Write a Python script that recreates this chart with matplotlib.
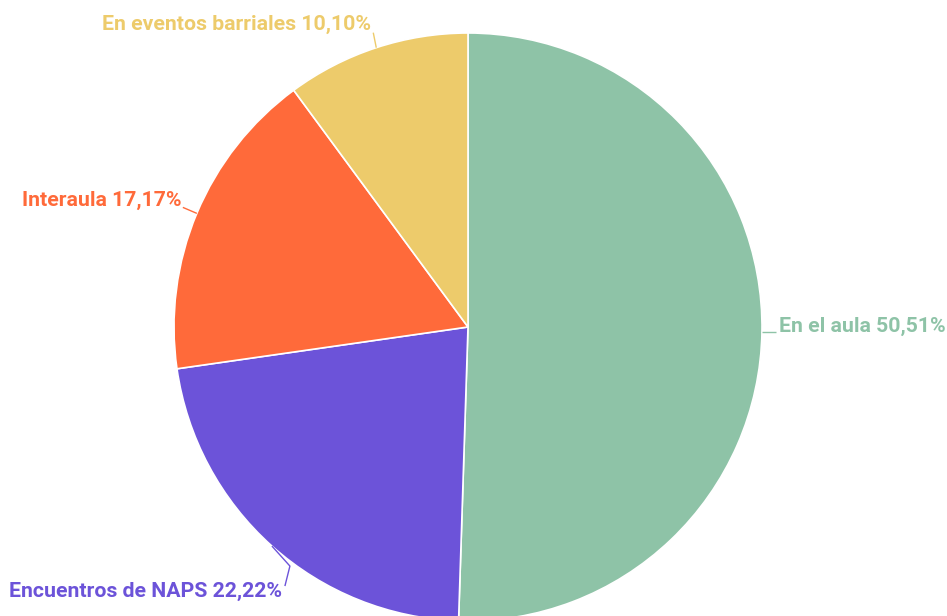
import numpy as np
import matplotlib
matplotlib.use("Agg")
import matplotlib.pyplot as plt

categories = ["En el aula", "Encuentros de NAPS", "Interaula", "En eventos barriales"]
values = [50.51, 22.22, 17.17, 10.10]
labels = ["En el aula 50,51%", "Encuentros de NAPS 22,22%", "Interaula 17,17%", "En eventos barriales 10,10%"]
colors = ["#8EC3A7", "#6C53D9", "#FF6A3A", "#EDCB6B"]

W, H = 947, 616
fig = plt.figure(figsize=(W / 100, H / 100), dpi=100)
ax = fig.add_axes([0, 0, 1, 1])
ax.set_xlim(0, W)
ax.set_ylim(0, H)
ax.set_aspect("equal")
ax.axis("off")

cx, cy, R = 468, H - 327, 294
wedges, _ = ax.pie(values, colors=colors, startangle=90, counterclock=False,
                   center=(cx, cy), radius=R, frame=True,
                   wedgeprops=dict(edgecolor="white", linewidth=1.2))
ax.set_xlim(0, W)
ax.set_ylim(0, H)
ax.axis("off")

# label layout: (elbow offsets from rim point, text anchor point, ha)
layout = [
    dict(path=[(14, 0)], text=(779, H - 326), ha="left"),
    dict(path=[(18, -20), (13, -40)], text=(282, H - 591), ha="right"),
    dict(path=[(-14, 6)], text=(181, H - 200), ha="right"),
    dict(path=[(-3, 15)], text=(371, H - 24), ha="right"),
]

for w, lab, col, lay in zip(wedges, labels, colors, layout):
    ang = np.deg2rad((w.theta1 + w.theta2) / 2)
    px, py = cx + R * np.cos(ang), cy + R * np.sin(ang)
    xs = [px] + [px + dx for dx, dy in lay["path"]]
    ys = [py] + [py + dy for dx, dy in lay["path"]]
    ax.plot(xs, ys, color=col, lw=1, solid_capstyle="butt")
    ax.text(lay["text"][0], lay["text"][1], lab, color=col, ha=lay["ha"], va="center",
            fontsize=15.3, fontfamily="Roboto", fontweight="bold")

fig.savefig("out.png", dpi=100)
